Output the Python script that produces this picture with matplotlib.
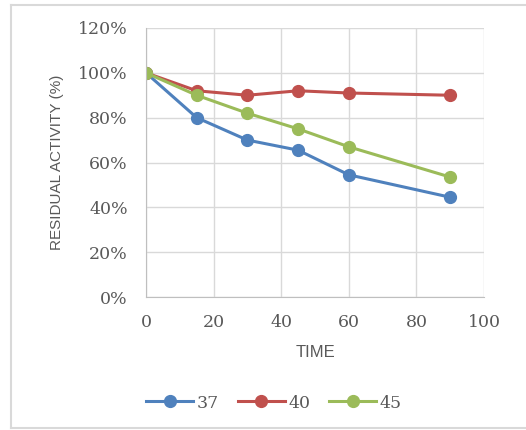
import matplotlib.pyplot as plt
from matplotlib.ticker import PercentFormatter
from matplotlib.lines import Line2D

time_min = [0, 15, 30, 45, 60, 90]
s37 = [100, 80, 70, 65.5, 54.5, 44.5]
s40 = [100, 92, 90, 92, 91, 90]
s45 = [100, 90, 82, 75, 67, 53.5]
labels = ["37", "40", "45"]
colors = ["#4F81BD", "#C0504D", "#9BBB59"]

fig = plt.figure(figsize=(5.26, 4.30), dpi=100)
# light frame around the chart (left, top, bottom)
for xs, ys in [([11 / 526, 11 / 526], [2 / 430, 425 / 430]),
               ([11 / 526, 1], [425 / 430, 425 / 430]),
               ([11 / 526, 1], [2 / 430, 2 / 430])]:
    fig.add_artist(Line2D(xs, ys, transform=fig.transFigure, color="#d9d9d9", linewidth=1.5))

ax = fig.add_axes([146 / 526, 1 - 297 / 430, 338 / 526, 269 / 430])

for y, lab, c in zip([s37, s40, s45], labels, colors):
    ax.plot(time_min, y, color=c, linewidth=2.2, marker="o", markersize=8.5, label=lab)

ax.set_xlim(0, 100)
ax.set_ylim(0, 120)
ax.set_xticks(range(0, 101, 20))
ax.set_yticks(range(0, 121, 20))
ax.yaxis.set_major_formatter(PercentFormatter(decimals=0))
ax.grid(True, color="#d9d9d9", linewidth=1)
ax.set_axisbelow(True)
for side in ["top", "right"]:
    ax.spines[side].set_visible(False)
for side in ["left", "bottom"]:
    ax.spines[side].set_color("#bfbfbf")
ax.tick_params(axis="y", length=0, pad=13, labelcolor="#595959")
ax.tick_params(axis="x", length=0, pad=12, labelcolor="#595959")
for t in ax.get_xticklabels() + ax.get_yticklabels():
    t.set_family("DejaVu Serif")
    t.set_fontsize(12.5)

ax.set_xlabel("TIME", family="Liberation Sans", fontsize=12, color="#595959", labelpad=10)
ax.set_ylabel("RESIDUAL ACTIVITY (%)", family="Liberation Sans", fontsize=11,
              color="#595959", labelpad=10)

leg = fig.legend(loc="center", bbox_to_anchor=(274 / 526, 1 - 403 / 430), ncol=3,
                 frameon=False, handlelength=2.7, handletextpad=0.2, columnspacing=1.1,
                 prop={"family": "DejaVu Serif", "size": 12.5})
for t in leg.get_texts():
    t.set_color("#595959")

plt.savefig("out.png")
